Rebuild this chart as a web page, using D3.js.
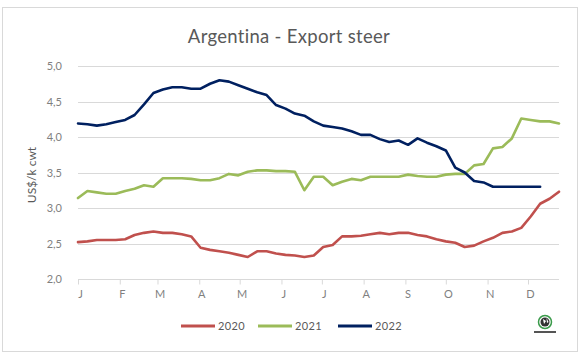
<!DOCTYPE html>
<html>
<head>
<meta charset="utf-8">
<script src="https://cdn.jsdelivr.net/npm/d3@7"></script>
<style>
  body { margin: 0; background: #fff; }
  svg text { font-family: Lato, "Open Sans", sans-serif; }
</style>
</head>
<body>
<div id="chart"></div>
<script>
// Weekly export steer prices, US$/k cwt (52 weeks, week 1 = 1 Jan)
const series2020 = [2.52, 2.53, 2.55, 2.55, 2.55, 2.56, 2.62, 2.65, 2.67, 2.65, 2.65, 2.63, 2.60,
  2.44, 2.41, 2.39, 2.37, 2.34, 2.31, 2.39, 2.39, 2.36, 2.34, 2.33, 2.31, 2.33,
  2.45, 2.48, 2.60, 2.60, 2.61, 2.63, 2.65, 2.63, 2.65, 2.65, 2.62, 2.60, 2.56,
  2.53, 2.51, 2.45, 2.47, 2.53, 2.58, 2.65, 2.67, 2.72, 2.88, 3.06, 3.13, 3.23];
const series2021 = [3.14, 3.24, 3.22, 3.20, 3.20, 3.24, 3.27, 3.32, 3.30, 3.42, 3.42, 3.42, 3.41,
  3.39, 3.39, 3.42, 3.48, 3.46, 3.51, 3.53, 3.53, 3.52, 3.52, 3.51, 3.25, 3.44,
  3.44, 3.32, 3.37, 3.41, 3.39, 3.44, 3.44, 3.44, 3.44, 3.47, 3.45, 3.44, 3.44,
  3.47, 3.48, 3.48, 3.60, 3.62, 3.84, 3.86, 3.98, 4.26, 4.24, 4.22, 4.22, 4.19];
const series2022 = [4.19, 4.18, 4.16, 4.18, 4.21, 4.24, 4.31, 4.46, 4.62, 4.67, 4.70, 4.70, 4.68,
  4.68, 4.75, 4.80, 4.78, 4.73, 4.68, 4.63, 4.59, 4.45, 4.40, 4.33, 4.30, 4.22,
  4.16, 4.14, 4.12, 4.08, 4.03, 4.03, 3.97, 3.93, 3.95, 3.89, 3.98, 3.92, 3.87,
  3.81, 3.57, 3.50, 3.38, 3.36, 3.30, 3.30, 3.30, 3.30, 3.30, 3.30, null, null];

const seriesNames = ["2020", "2021", "2022"];
const seriesColors = ["#c0504d", "#9bbb59", "#002060"];
const monthLabels = ["J", "F", "M", "A", "M", "J", "J", "A", "S", "O", "N", "D"];
const yTicks = [2.0, 2.5, 3.0, 3.5, 4.0, 4.5, 5.0];

const width = 586, height = 360;
const margin = { top: 66, right: 27, bottom: 81, left: 78 };

// week start dates
const weeks = d3.range(52).map((i) => d3.timeDay.offset(new Date(2022, 0, 1), 7 * i));

const svg = d3.select("#chart").append("svg")
  .attr("width", width)
  .attr("height", height);

// outer frame
svg.append("rect")
  .attr("x", 2.5).attr("y", 7.5)
  .attr("width", 575).attr("height", 344)
  .attr("fill", "#fff")
  .attr("stroke", "#d9d9d9");

const x = d3.scaleTime()
  .domain([weeks[0], weeks[weeks.length - 1]])
  .range([margin.left, width - margin.right]);

const y = d3.scaleLinear()
  .domain([2, 5])
  .range([height - margin.bottom, margin.top]);

// title
svg.append("text")
  .attr("x", 289).attr("y", 43)
  .attr("text-anchor", "middle")
  .attr("font-size", 18.5)
  .attr("letter-spacing", 0.3)
  .attr("fill", "#595959")
  .text("Argentina - Export steer");

// gridlines
svg.append("g")
  .selectAll("line")
  .data(yTicks.slice(1))
  .join("line")
  .attr("x1", margin.left).attr("x2", width - margin.right)
  .attr("y1", (d) => Math.round(y(d)) + 0.5)
  .attr("y2", (d) => Math.round(y(d)) + 0.5)
  .attr("stroke", "#d9d9d9");

// y axis labels
const yAxis = svg.append("g")
  .attr("transform", `translate(${margin.left},0)`)
  .call(d3.axisLeft(y).tickValues(yTicks).tickSize(0).tickPadding(16)
    .tickFormat((d) => d3.format(".1f")(d).replace(".", ",")));
yAxis.select(".domain").remove();
yAxis.selectAll("text")
  .attr("font-size", 11)
  .attr("fill", "#7f7f7f")
  .style("font-family", "Lato, sans-serif");

// x axis
const months = d3.timeMonth.range(new Date(2022, 0, 1), new Date(2023, 0, 1));
const xAxis = svg.append("g")
  .attr("transform", `translate(0,${Math.round(y(2)) + 0.5})`)
  .call(d3.axisBottom(x).tickValues(months).tickSize(5).tickPadding(6)
    .tickFormat((d, i) => monthLabels[i]));
xAxis.select(".domain")
  .attr("stroke", "#d9d9d9")
  .attr("d", `M${margin.left},0H${width - margin.right}`);
xAxis.selectAll(".tick line").attr("stroke", "#d9d9d9");
xAxis.selectAll("text")
  .attr("font-size", 11)
  .attr("fill", "#7f7f7f")
  .attr("dx", 2)
  .style("font-family", "Lato, sans-serif");

// y axis title
svg.append("text")
  .attr("transform", "translate(36,175) rotate(-90)")
  .attr("text-anchor", "middle")
  .attr("font-size", 12)
  .attr("fill", "#595959")
  .text("US$/k cwt");

// lines
const line = d3.line()
  .defined((d) => d != null)
  .x((d, i) => x(weeks[i]))
  .y((d) => y(d));

[series2020, series2021, series2022].forEach((s, k) => {
  svg.append("path")
    .datum(s)
    .attr("fill", "none")
    .attr("stroke", seriesColors[k])
    .attr("stroke-width", 2.6)
    .attr("stroke-linejoin", "round")
    .attr("stroke-linecap", "round")
    .attr("d", line);
});

// legend
const legendX = [181, 258, 338];
const legend = svg.append("g");
seriesNames.forEach((name, k) => {
  legend.append("line")
    .attr("x1", legendX[k]).attr("x2", legendX[k] + 34)
    .attr("y1", 326).attr("y2", 326)
    .attr("stroke", seriesColors[k])
    .attr("stroke-width", 2.8);
  legend.append("text")
    .attr("x", legendX[k] + 37).attr("y", 330)
    .attr("font-size", 11)
    .attr("letter-spacing", 0.4)
    .attr("fill", "#595959")
    .text(name);
});

// small logo in the corner
const logo = svg.append("g").attr("transform", "translate(545,322)");
logo.append("circle").attr("r", 6.5).attr("fill", "#fff")
  .attr("stroke", "#3a9a4a").attr("stroke-width", 1.5);
logo.append("circle").attr("r", 4.5).attr("fill", "#333");
logo.append("path").attr("d", "M-2,-3 L1,-1 L-1,2 Z M1.5,-4 L3.5,0 L2,1 Z").attr("fill", "#fff");
logo.append("rect").attr("x", -11).attr("y", 9).attr("width", 22).attr("height", 2)
  .attr("fill", "#555");
</script>
</body>
</html>
